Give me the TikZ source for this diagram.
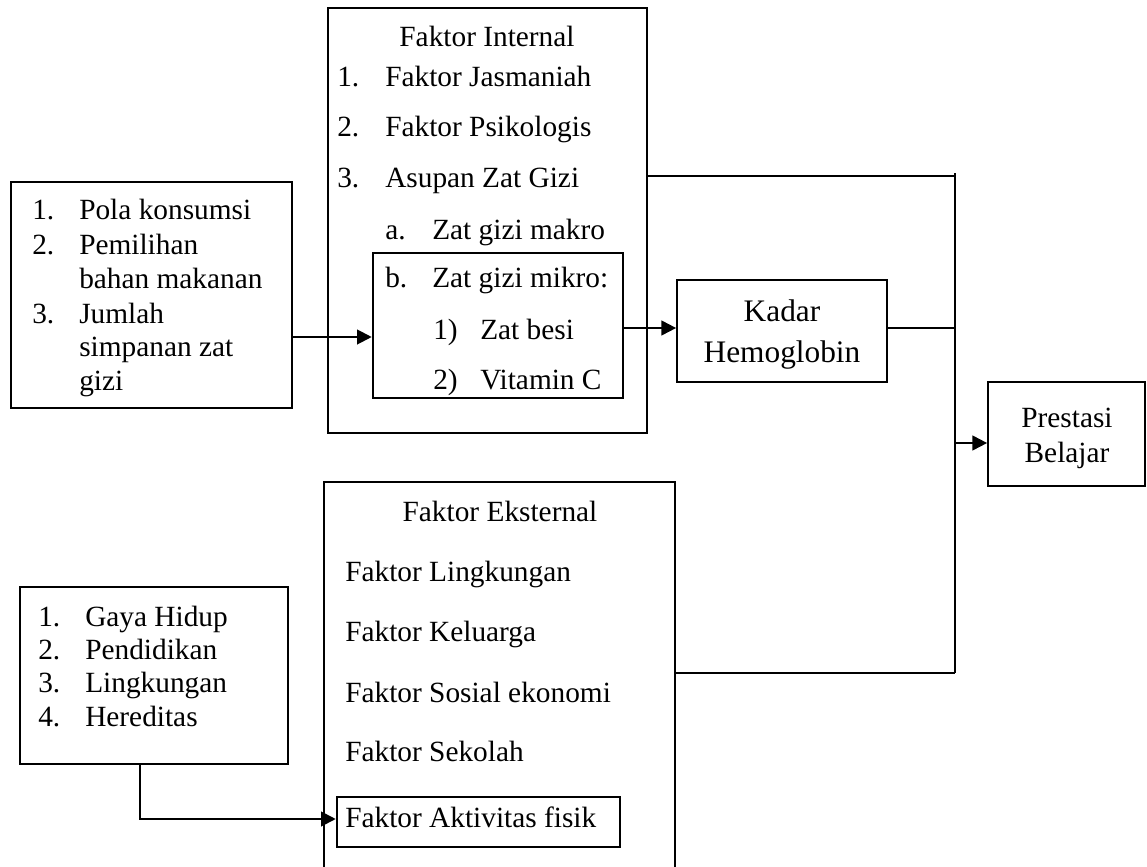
\documentclass[tikz,border=0pt]{standalone}
\usepackage{fontspec}
\setmainfont{Liberation Serif}
\usetikzlibrary{fit,arrows.meta}
\begin{document}
\begin{tikzpicture}[x=0.75pt,y=-0.75pt,
  box/.style={draw, line width=1.3pt, inner sep=0pt},
  inbox/.style={draw, line width=1.9pt, inner sep=0pt},
  txt/.style={anchor=west, inner sep=0pt, font=\fontsize{22}{26}\selectfont, text height=16pt, text depth=1.4pt},
  ctxt/.style={txt, anchor=center},
  btxt/.style={ctxt, font=\fontsize{23.5}{28}\selectfont},
  conn/.style={line width=1.1pt},
  arr/.style={line width=1.5pt, -{Triangle[length=11pt,width=11pt]}}]
\useasboundingbox (0,0) rectangle (1147,867);
\clip (0,0) rectangle (1147,867);

% boxes
\node[box, fit={(11,182) (292,408)}] (tl) {};
\node[box, fit={(328,8) (647,433)}] (ib) {};
\node[inbox, fit={(373,253) (623,398)}] (mk) {};
\node[box, fit={(677,280) (887,382)}] (kh) {};
\node[box, fit={(988,382) (1145,486)}] (pb) {};
\node[box, fit={(324,482) (675,900)}] (eb) {};
\node[inbox, fit={(337,797) (620,847)}] (ak) {};
\node[box, fit={(20,587) (288,764)}] (bl) {};

% top-left box text
\node[txt] (tl1n) at (32,210) {1.};
\node[txt] (tl1) at (79,210) {Pola konsumsi};
\node[txt] (tl2n) at (32,245) {2.};
\node[txt] (tl2) at (79,245) {Pemilihan};
\node[txt] (tl2b) at (79,279) {bahan makanan};
\node[txt] (tl3n) at (32,314) {3.};
\node[txt] (tl3) at (79,314) {Jumlah};
\node[txt] (tl3b) at (79,347) {simpanan zat};
\node[txt] (tl3c) at (79,381) {gizi};

% internal box text
\node[ctxt] (ibt) at (487,37) {Faktor Internal};
\node[txt] (i1n) at (337,77) {1.};
\node[txt] (i1) at (385,77) {Faktor Jasmaniah};
\node[txt] (i2n) at (337,127) {2.};
\node[txt] (i2) at (385,127) {Faktor Psikologis};
\node[txt] (i3n) at (337,178) {3.};
\node[txt] (i3) at (385,178) {Asupan Zat Gizi};
\node[txt] (ian) at (385,230) {a.};
\node[txt] (ia) at (432,230) {Zat gizi makro};
\node[txt] (ibn) at (385,278) {b.};
\node[txt] (ibx) at (432,278) {Zat gizi mikro:};
\node[txt] (ib1n) at (433,330) {1)};
\node[txt] (ib1) at (480,330) {Zat besi};
\node[txt] (ib2n) at (433,380) {2)};
\node[txt] (ib2) at (480,380) {Vitamin C};

% Kadar Hemoglobin
\node[btxt] (kh1) at (782,312) {Kadar};
\node[btxt] (kh2) at (782,353) {Hemoglobin};

% Prestasi Belajar
\node[ctxt] (pb1) at (1067,418) {Prestasi};
\node[ctxt] (pb2) at (1067,453) {Belajar};

% external box text
\node[ctxt] (ebt) at (500,512) {Faktor Eksternal};
\node[txt] (e1) at (345,572) {Faktor Lingkungan};
\node[txt] (e2) at (345,632) {Faktor Keluarga};
\node[txt] (e3) at (345,693) {Faktor Sosial ekonomi};
\node[txt] (e4) at (345,752) {Faktor Sekolah};
\node[txt] (e5) at (345,818) {Faktor Aktivitas fisik};

% bottom-left box text
\node[txt] (b1n) at (38,617) {1.};
\node[txt] (b1) at (85,617) {Gaya Hidup};
\node[txt] (b2n) at (38,650) {2.};
\node[txt] (b2) at (85,650) {Pendidikan};
\node[txt] (b3n) at (38,683) {3.};
\node[txt] (b3) at (85,683) {Lingkungan};
\node[txt] (b4n) at (38,717) {4.};
\node[txt] (b4) at (85,717) {Hereditas};

% connectors
\coordinate (a1) at (300,337);
\coordinate (a2) at (650,328);
\coordinate (jt) at (955,176);
\coordinate (jtop) at (955,173);
\coordinate (jb) at (955,673);
\coordinate (jp) at (955,443);
\coordinate (bx) at (140,819);

\draw[arr] (tl.east |- a1) -- (mk.west |- a1);
\draw[arr] (mk.east |- a2) -- (kh.west |- a2);
\draw[conn] (ib.east |- jt) -- (jt);
\draw[conn] (jtop) -- (jb);
\draw[conn] (kh.east |- a2) -- (jt |- a2);
\draw[conn] (eb.east |- jb) -- (jb);
\draw[arr] (jp) -- (pb.west |- jp);
\draw[arr] (bl.south -| bx) -- (bx) -- (ak.west |- bx);
\end{tikzpicture}
\end{document}
